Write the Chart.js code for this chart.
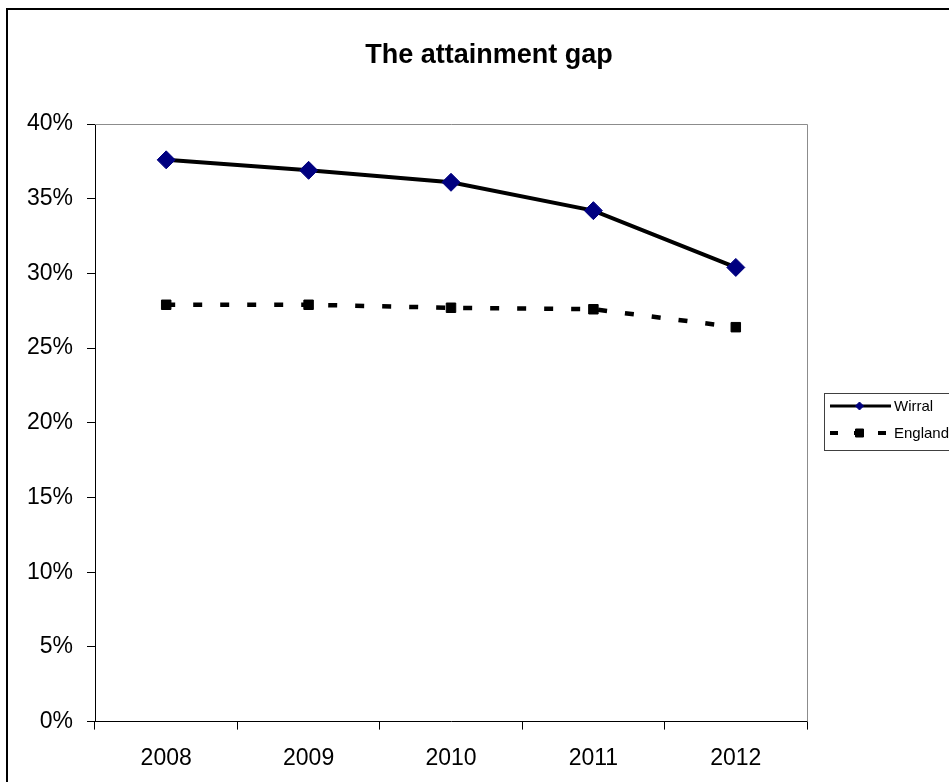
<!DOCTYPE html>
<html>
<head>
<meta charset="utf-8">
<title>The attainment gap</title>
<script src="https://cdn.jsdelivr.net/npm/chart.js@4/dist/chart.umd.min.js"></script>
<style>
  html, body { margin: 0; padding: 0; background: #ffffff; }
  #wrap { position: relative; width: 949px; height: 782px; overflow: hidden; }
</style>
</head>
<body>
<div id="wrap"><canvas id="chart" width="949" height="782"></canvas></div>
<script>
// Data
const years = ['2008', '2009', '2010', '2011', '2012'];
const wirral = [37.6, 36.9, 36.1, 34.2, 30.4];
const england = [27.9, 27.9, 27.7, 27.6, 26.4];
const seriesNames = ['Wirral', 'England'];
const yTickValues = [0, 5, 10, 15, 20, 25, 30, 35, 40];
const chartTitle = 'The attainment gap';

const FONT = "'Liberation Sans', Arial, Helvetica, sans-serif";

// Outer frame, white background and the grey top/right edges of the plot area
const framePlugin = {
  id: 'frame',
  beforeDraw(chart) {
    const ctx = chart.ctx;
    ctx.save();
    ctx.fillStyle = '#ffffff';
    ctx.fillRect(0, 0, chart.width, chart.height);
    ctx.strokeStyle = '#000000';
    ctx.lineWidth = 2;
    ctx.strokeRect(7, 9, chart.width + 20, chart.height + 20);
    ctx.restore();
  },
  beforeDatasetsDraw(chart) {
    const { ctx, chartArea: a } = chart;
    ctx.save();
    ctx.strokeStyle = '#8c8c8c';
    ctx.lineWidth = 1;
    ctx.beginPath();
    ctx.moveTo(a.left, a.top + 0.5);
    ctx.lineTo(a.right + 0.5, a.top + 0.5);
    ctx.lineTo(a.right + 0.5, a.bottom);
    ctx.stroke();
    ctx.restore();
  }
};

// Chart heading
const headingPlugin = {
  id: 'heading',
  afterDraw(chart) {
    const ctx = chart.ctx;
    ctx.save();
    ctx.fillStyle = '#000000';
    ctx.font = 'bold 27px ' + FONT;
    ctx.textAlign = 'center';
    ctx.textBaseline = 'alphabetic';
    ctx.fillText(chartTitle, 489, 63);
    ctx.restore();
  }
};

// Boxed legend on the right, samples drawn with each dataset's own styling
const boxLegendPlugin = {
  id: 'boxLegend',
  afterDraw(chart) {
    const ctx = chart.ctx;
    const box = { x: 824, y: 393, w: 200, h: 57 };
    ctx.save();
    ctx.fillStyle = '#ffffff';
    ctx.fillRect(box.x, box.y, box.w, box.h);
    ctx.strokeStyle = '#404040';
    ctx.lineWidth = 1;
    ctx.strokeRect(box.x + 0.5, box.y + 0.5, box.w, box.h);

    const rows = [406, 433];
    chart.data.datasets.forEach((ds, i) => {
      const y = rows[i];
      // line sample
      ctx.save();
      ctx.strokeStyle = ds.borderColor;
      ctx.lineWidth = i === 0 ? 3 : 4;
      ctx.lineCap = 'butt';
      ctx.setLineDash(ds.borderDash ? [8, 16] : []);
      ctx.beginPath();
      ctx.moveTo(830, y);
      ctx.lineTo(891, y);
      ctx.stroke();
      ctx.restore();

      // marker sample
      ctx.save();
      ctx.fillStyle = ds.pointBackgroundColor;
      ctx.strokeStyle = ds.pointBorderColor;
      ctx.lineWidth = 1;
      ctx.beginPath();
      if (ds.pointStyle === 'rectRot') {
        const r = 4;
        ctx.moveTo(859.5 - r, y); ctx.lineTo(859.5, y - r);
        ctx.lineTo(859.5 + r, y); ctx.lineTo(859.5, y + r);
      } else {
        ctx.rect(855.5, y - 4, 8, 8);
      }
      ctx.closePath();
      ctx.fill();
      ctx.stroke();
      ctx.restore();

      // label
      ctx.fillStyle = '#000000';
      ctx.font = '15px ' + FONT;
      ctx.textAlign = 'left';
      ctx.textBaseline = 'middle';
      ctx.fillText(ds.label, 894, y + 1);
    });
    ctx.restore();
  }
};

new Chart(document.getElementById('chart'), {
  type: 'line',
  data: {
    labels: years,
    datasets: [
      {
        label: seriesNames[0],
        data: wirral,
        borderColor: '#000000',
        borderWidth: 4,
        tension: 0,
        pointStyle: 'rectRot',
        pointRadius: 9,
        pointHoverRadius: 9,
        pointBackgroundColor: '#000080',
        pointBorderColor: '#000080',
        pointBorderWidth: 1,
        fill: false,
        order: 1
      },
      {
        label: seriesNames[1],
        data: england,
        borderColor: '#000000',
        borderWidth: 4.5,
        borderDash: [9, 18],
        borderCapStyle: 'butt',
        tension: 0,
        pointStyle: 'rect',
        pointRadius: 6.7,
        pointHoverRadius: 6.7,
        pointBackgroundColor: '#000000',
        pointBorderColor: '#000000',
        pointBorderWidth: 1,
        fill: false,
        order: 2
      }
    ]
  },
  options: {
    responsive: false,
    animation: false,
    devicePixelRatio: 1,
    layout: { padding: { left: 0, top: 124, right: 142, bottom: 0 } },
    plugins: {
      legend: { display: false },
      title: { display: false },
      tooltip: { enabled: false }
    },
    scales: {
      x: {
        type: 'category',
        offset: true,
        afterFit(scale) { scale.height = 60.4; },
        grid: {
          offset: true,
          drawOnChartArea: false,
          drawTicks: true,
          tickLength: 8,
          color: '#000000',
          lineWidth: 1
        },
        border: { display: true, color: '#000000', width: 1 },
        ticks: {
          color: '#000000',
          font: { family: FONT, size: 23 },
          padding: 15,
          maxRotation: 0,
          autoSkip: false
        }
      },
      y: {
        min: 0,
        max: 40,
        afterFit(scale) { scale.width = 95; },
        afterBuildTicks(scale) {
          scale.ticks = yTickValues.map(v => ({ value: v }));
        },
        grid: {
          drawOnChartArea: false,
          drawTicks: true,
          tickLength: 8,
          color: '#000000',
          lineWidth: 1
        },
        border: { display: true, color: '#000000', width: 1 },
        ticks: {
          color: '#000000',
          font: { family: FONT, size: 23 },
          padding: 14,
          callback: v => v + '%'
        }
      }
    }
  },
  plugins: [framePlugin, headingPlugin, boxLegendPlugin]
});
</script>
</body>
</html>
